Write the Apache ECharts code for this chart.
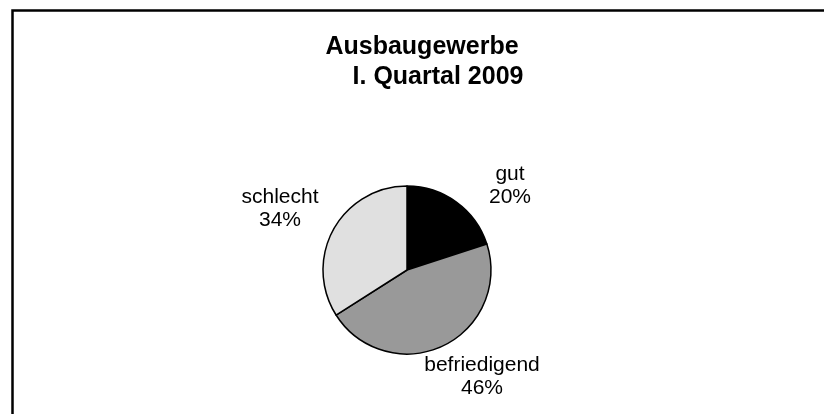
<!DOCTYPE html>
<html>
<head>
<meta charset="utf-8">
<script src="https://cdn.jsdelivr.net/npm/echarts@6/dist/echarts.min.js"></script>
<style>
html,body{margin:0;padding:0;background:#fff;}
#chart{width:824px;height:414px;}
</style>
</head>
<body>
<div id="chart"></div>
<script>
const titleText = 'Ausbaugewerbe';
const subtitleText = 'I. Quartal 2009';
const categories = ['gut', 'befriedigend', 'schlecht'];
const values = [20, 46, 34];
const colors = ['#000000', '#999999', '#e0e0e0'];
const labelPos = [[510, 186], [482, 377], [280, 209]];

const chart = echarts.init(document.getElementById('chart'), null, {renderer: 'canvas'});
chart.setOption({
  animation: false,
  backgroundColor: '#ffffff',
  title: [
    {text: titleText, left: 417, top: 30, textAlign: 'center',
     textStyle: {fontFamily: 'Liberation Sans, Arial, sans-serif', fontWeight: 'bold', fontSize: 25, color: '#000'}},
    {text: subtitleText, left: 433, top: 60, textAlign: 'center',
     textStyle: {fontFamily: 'Liberation Sans, Arial, sans-serif', fontWeight: 'bold', fontSize: 25, color: '#000'}}
  ],
  graphic: [
    {type: 'rect', shape: {x: 12.5, y: 10.5, width: 840, height: 440},
     style: {fill: 'none', stroke: '#000', lineWidth: 2.5}, silent: true}
  ],
  series: [{
    type: 'pie',
    center: [407, 270],
    radius: [0, 84],
    startAngle: 90,
    clockwise: true,
    data: categories.map((c, i) => ({name: c, value: values[i], itemStyle: {color: colors[i]}})),
    itemStyle: {borderColor: '#000', borderWidth: 1.5},
    label: {
      show: true,
      formatter: '{b}\n{c}%',
      fontFamily: 'Liberation Sans, Arial, sans-serif',
      fontSize: 21,
      lineHeight: 23,
      color: '#000',
      align: 'center'
    },
    labelLine: {show: false},
    labelLayout: function (params) {
      const p = labelPos[params.dataIndex];
      return {x: p[0], y: p[1], align: 'center', verticalAlign: 'middle'};
    },
    emphasis: {disabled: true}
  }]
});
</script>
</body>
</html>
